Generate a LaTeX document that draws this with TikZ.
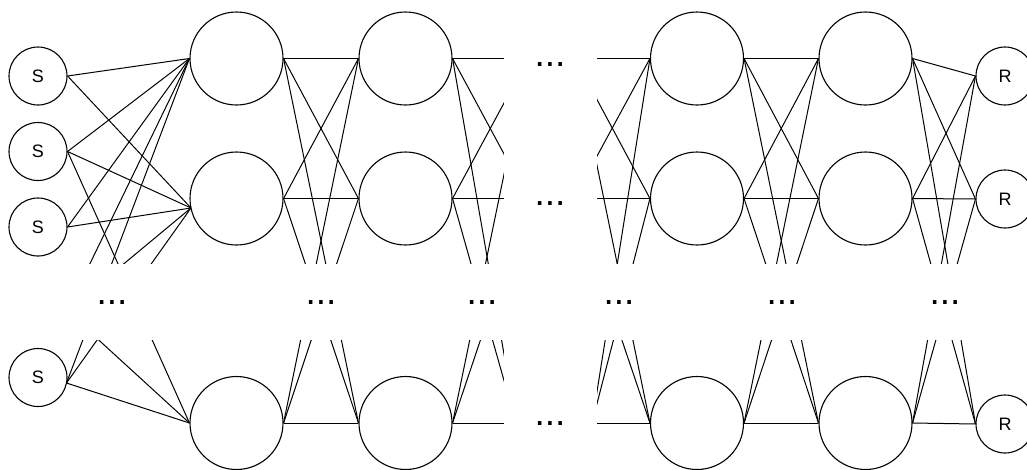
\documentclass[tikz,border=0pt]{standalone}
\usepackage{fontspec}
\setmainfont{Liberation Sans}
\usetikzlibrary{backgrounds}
\begin{document}
\begin{tikzpicture}[x=1pt,y=-1pt,
  big/.style={circle,draw,line width=1.1pt,minimum size=93pt,inner sep=0pt},
  small/.style={circle,draw,line width=1.1pt,minimum size=58pt,inner sep=0pt,font=\fontsize{18}{18}\selectfont},
  link/.style={line width=1pt},
  mask/.style={fill=white,draw=none},
  dots/.style={inner sep=0pt,anchor=base,font=\fontsize{37}{37}\selectfont}]
\useasboundingbox (0,0) rectangle (1027,469);
% input nodes
\node[small] (S1) at (38,76) {S};
\node[small] (S2) at (38,151.5) {S};
\node[small] (S3) at (38,227) {S};
\node[small] (S4) at (38,377.5) {S};
\coordinate (Sh) at (67,311);
\coordinate (S4o) at (66.5,383);
% hidden layers
\node[big] (A1) at (236.5,58.5) {};
\node[big] (A2) at (236.5,198.5) {};
\node[big] (A3) at (236.5,423) {};
\node[big] (B1) at (405.5,58.5) {};
\node[big] (B2) at (405.5,198.5) {};
\node[big] (B3) at (405.5,423) {};
\node[big] (C1) at (697,58.5) {};
\node[big] (C2) at (697,198.5) {};
\node[big] (C3) at (697,423) {};
\node[big] (D1) at (865.5,58.5) {};
\node[big] (D2) at (865.5,198.5) {};
\node[big] (D3) at (865.5,423) {};
\coordinate (A2in) at (191,208);
% outputs
\node[small] (R1) at (1005,76) {R};
\node[small] (R2) at (1005,199) {R};
\node[small] (R3) at (1005,424) {R};
% virtual ends inside the gap
\coordinate (hL1) at (528,58.5);
\coordinate (hL2) at (528,198.5);
\coordinate (hL3) at (516,423);
\coordinate (hR1) at (575,58.5);
\coordinate (hR2) at (574,198.5);
\coordinate (hR3) at (592,423);
\begin{pgfonlayer}{background}
  % S -> A
  \draw[link] (S1.east) -- (A1.west);
  \draw[link] (S1.east) -- (A2in);
  \draw[link] (S2.east) -- (A1.west);
  \draw[link] (S2.east) -- (A2in);
  \draw[link] (S2.east) -- (A3.west);
  \draw[link] (S3.east) -- (A1.west);
  \draw[link] (S3.east) -- (A2in);
  \draw[link] (Sh) -- (A1.west);
  \draw[link] (Sh) -- (A2in);
  \draw[link] (Sh) -- (A3.west);
  \draw[link] (S4o) -- (A1.west);
  \draw[link] (S4o) -- (A2in);
  \draw[link] (S4o) -- (A3.west);
  \foreach \i in {1,2,3} {
    \foreach \j in {1,2,3} {
      \draw[link] (A\i.east) -- (B\j.west);
      \draw[link] (B\i.east) -- (hL\j);
      \draw[link] (hR\i) -- (C\j.west);
      \draw[link] (C\i.east) -- (D\j.west);
      \draw[link] (D\i.east) -- (R\j.west);
    }
  }
  % white bands that hide the elided parts
  \path[mask] (0,263.5) rectangle (1027,340);
  \path[mask] (504,0) rectangle (597,469);
\end{pgfonlayer}
% ellipses
\node[dots] (g1) at (550,66) {...};
\node[dots] (g2) at (550,205) {...};
\node[dots] (g3) at (550,425) {...};
\node[dots] (m1) at (112,304) {...};
\node[dots] (m2) at (321,304) {...};
\node[dots] (m3) at (482,304) {...};
\node[dots] (m4) at (619,304) {...};
\node[dots] (m5) at (782,304) {...};
\node[dots] (m6) at (945,304) {...};
\end{tikzpicture}
\end{document}
